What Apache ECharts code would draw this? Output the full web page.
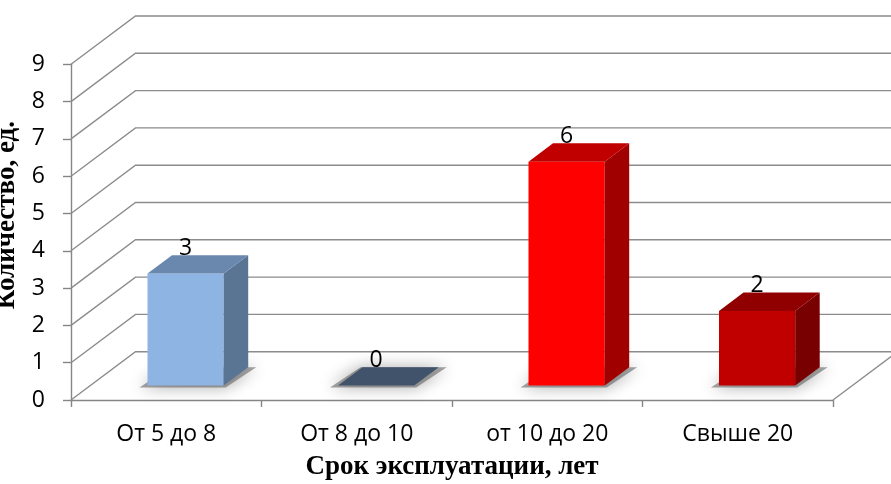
<!DOCTYPE html>
<html>
<head>
<meta charset="utf-8">
<script src="https://cdn.jsdelivr.net/npm/echarts@6/dist/echarts.min.js"></script>
<style>
  html, body { margin: 0; padding: 0; background: #ffffff; }
  #chart { width: 891px; height: 484px; }
</style>
</head>
<body>
<div id="chart"></div>
<script>
// Service life groups and number of units in each
const categories = ['От 5 до 8', 'От 8 до 10', 'от 10 до 20', 'Свыше 20'];
const counts = [3, 0, 6, 2];
const yMin = 0;
const yMax = 9;
const yStep = 1;
const gridValues = [0, 1, 2, 3, 4, 5, 6, 7, 8, 9];

// Face colours of each 3D column: front, top, right side
const barColors = [
  { front: '#8DB4E2', top: '#6A88AE', side: '#5A7494' },
  { front: '#4A5D78', top: '#41536B', side: '#36465B' },
  { front: '#FF0000', top: '#C00000', side: '#A00000' },
  { front: '#C00000', top: '#900000', side: '#780000' }
];

// Oblique projection of the depth axis (pixels for full floor depth)
const DEPTH_X = 64.5;
const DEPTH_Y = -48.3;
// Column occupies this slice of the floor depth and of the category band
const BAR_FRONT = 0.30;
const BAR_BACK = 0.68;
const BAR_WIDTH = 0.40;

const gridLineColor = '#8C8C8C';
const sansFont = '"Open Sans"';
const sansSize = 23;

const chart = echarts.init(document.getElementById('chart'), null, { renderer: 'canvas' });

// Back wall and left wall gridlines, plus the floor outline
function renderWalls(params, api) {
  const cs = params.coordSys;
  const v = api.value(0);
  const y = api.coord([0, v])[1];
  const x0 = cs.x;
  const x1 = cs.x + cs.width;
  const children = [{
    type: 'polyline',
    shape: { points: [[x0, y], [x0 + DEPTH_X, y + DEPTH_Y], [x1 + DEPTH_X, y + DEPTH_Y]] },
    style: { stroke: gridLineColor, lineWidth: 1.4, fill: null }
  }];
  if (v === yMin) {
    children.push({
      type: 'line',
      shape: { x1: x1, y1: y, x2: x1 + DEPTH_X, y2: y + DEPTH_Y },
      style: { stroke: gridLineColor, lineWidth: 1.4 }
    });
  }
  return { type: 'group', children: children };
}

// 3D column: floor shadow, front face, right side, top and value label
function renderColumn(params, api) {
  const i = api.value(0);
  const v = api.value(1);
  const top = api.coord([i, v]);
  const base = api.coord([i, 0]);
  const band = api.size([1, 0])[0];
  const half = band * BAR_WIDTH / 2;
  const fx = BAR_FRONT * DEPTH_X, fy = BAR_FRONT * DEPTH_Y;
  const bx = BAR_BACK * DEPTH_X, by = BAR_BACK * DEPTH_Y;
  const cx = top[0];
  const L = cx - half, R = cx + half;
  const yT = top[1], yB = base[1];
  const c = barColors[i];

  const FLT = [L + fx, yT + fy], FRT = [R + fx, yT + fy];
  const BRT = [R + bx, yT + by], BLT = [L + bx, yT + by];
  const FLB = [L + fx, yB + fy], FRB = [R + fx, yB + fy];
  const BRB = [R + bx, yB + by], BLB = [L + bx, yB + by];

  const children = [
    {
      type: 'polygon',
      shape: { points: [[FLB[0] - 8, FLB[1] + 2], [FRB[0] + 2, FRB[1] + 2], [BRB[0] + 8, BRB[1]], [BLB[0] - 2, BLB[1]]] },
      style: { fill: 'rgba(90,90,90,0.55)', shadowBlur: 16, shadowColor: 'rgba(0,0,0,0.6)' }
    }
  ];
  if (v > 0) {
    children.push(
      { type: 'polygon', shape: { points: [FLT, FRT, FRB, FLB] }, style: { fill: c.front } },
      { type: 'polygon', shape: { points: [FRT, BRT, BRB, FRB] }, style: { fill: c.side } }
    );
  }
  children.push(
    { type: 'polygon', shape: { points: [FLT, FRT, BRT, BLT] }, style: { fill: c.top } },
    {
      type: 'text',
      x: cx + fx,
      y: yT + by - 7,
      style: {
        text: String(v),
        fill: '#000000',
        font: sansSize + 'px ' + sansFont,
        align: 'center',
        verticalAlign: 'middle'
      }
    }
  );
  return { type: 'group', children: children };
}

const option = {
  backgroundColor: '#ffffff',
  animation: false,
  grid: { left: 71, right: 58, top: 64.3, bottom: 84, containLabel: false, outerBoundsMode: 'none' },
  xAxis: {
    type: 'category',
    data: categories,
    boundaryGap: true,
    name: 'Срок эксплуатации, лет',
    nameLocation: 'middle',
    nameGap: 54,
    nameTextStyle: {
      fontFamily: '"Liberation Serif"',
      fontWeight: 'bold',
      fontSize: 27,
      color: '#000000'
    },
    axisLine: { show: true, lineStyle: { color: '#868686', width: 1.4 } },
    axisTick: { show: true, length: 7, lineStyle: { color: '#868686', width: 1.4 } },
    axisLabel: {
      margin: 23,
      fontFamily: sansFont,
      fontSize: sansSize,
      color: '#000000'
    },
    splitLine: { show: false }
  },
  yAxis: {
    type: 'value',
    min: yMin,
    max: yMax,
    interval: yStep,
    name: 'Количество, ед.',
    nameLocation: 'middle',
    nameGap: 38,
    nameTextStyle: {
      fontFamily: '"Liberation Serif"',
      fontWeight: 'bold',
      fontSize: 27,
      color: '#000000',
      padding: [0, 0, 0, 34]
    },
    axisLine: { show: true, lineStyle: { color: '#868686', width: 1.4 } },
    axisTick: { show: true, length: 8, lineStyle: { color: '#868686', width: 1.4 } },
    axisLabel: {
      margin: 26,
      fontFamily: sansFont,
      fontSize: sansSize,
      color: '#000000'
    },
    splitLine: { show: false }
  },
  series: [
    {
      type: 'custom',
      name: 'walls',
      renderItem: renderWalls,
      data: gridValues.map(function (v) { return [v]; }),
      encode: { y: 0 },
      clip: false,
      silent: true,
      z: 1
    },
    {
      type: 'custom',
      name: 'Количество',
      renderItem: renderColumn,
      data: counts.map(function (v, i) { return [i, v]; }),
      encode: { x: 0, y: 1 },
      clip: false,
      z: 3
    }
  ]
};

chart.setOption(option);
</script>
</body>
</html>
